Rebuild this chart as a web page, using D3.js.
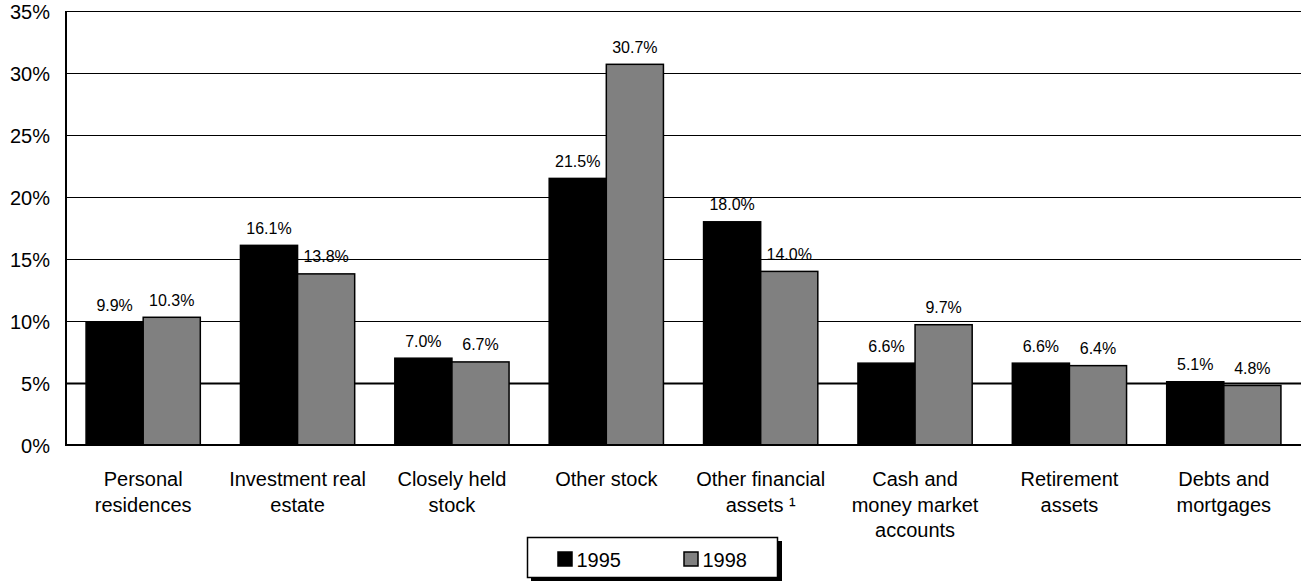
<!DOCTYPE html>
<html>
<head>
<meta charset="utf-8">
<script src="https://cdn.jsdelivr.net/npm/d3@7"></script>
<style>
  html, body { margin: 0; padding: 0; background: #fff; }
  svg { display: block; font-family: "Liberation Sans", Arial, sans-serif; }
</style>
</head>
<body>
<svg id="chart" width="1301" height="581"></svg>
<script>
// Share of gross estate by asset type, 1995 vs 1998
const categories = [
  ["Personal", "residences"],
  ["Investment real", "estate"],
  ["Closely held", "stock"],
  ["Other stock"],
  ["Other financial", "assets \u00B9"],
  ["Cash and", "money market", "accounts"],
  ["Retirement", "assets"],
  ["Debts and", "mortgages"]
];
const series = ["1995", "1998"];
const values1995 = [9.9, 16.1, 7.0, 21.5, 18.0, 6.6, 6.6, 5.1];
const values1998 = [10.3, 13.8, 6.7, 30.7, 14.0, 9.7, 6.4, 4.8];
const yTicks = [0, 5, 10, 15, 20, 25, 30, 35];
const colors = ["#000000", "#808080"];

const svg = d3.select("#chart");
const margin = { left: 66, right: 0, top: 11, bottom: 136 };
const W = 1301, H = 581;

const x = d3.scaleBand()
  .domain(d3.range(categories.length))
  .range([margin.left, W - margin.right])
  .paddingInner(0.26)
  .paddingOuter(0.13);
const xs = d3.scaleBand().domain(series).range([0, x.bandwidth()]);
const y = d3.scaleLinear().domain([0, 35]).range([H - margin.bottom, margin.top]);

// gridlines
svg.append("g").selectAll("line").data(yTicks.filter(t => t > 0)).join("line")
  .attr("x1", margin.left).attr("x2", W)
  .attr("y1", d => Math.round(y(d)) + 0.5).attr("y2", d => Math.round(y(d)) + 0.5)
  .attr("stroke", "#000").attr("stroke-width", d => d === 5 ? 2 : 1);

// y axis labels
const yAxis = d3.axisLeft(y).tickValues(yTicks).tickFormat(d => d + "%").tickSize(0).tickPadding(16);
const gy = svg.append("g").attr("transform", `translate(${margin.left},0)`).call(yAxis);
gy.select(".domain").remove();
gy.selectAll("text").attr("font-size", 20).attr("fill", "#000").attr("dy", "0.36em")
  .attr("font-family", "Liberation Sans, Arial, sans-serif");

// bars
const data = categories.map((c, i) => ({ i, vals: [values1995[i], values1998[i]] }));
const groups = svg.append("g").selectAll("g").data(data).join("g")
  .attr("transform", d => `translate(${x(d.i)},0)`);
groups.selectAll("rect").data(d => d.vals.map((v, k) => ({ v, k }))).join("rect")
  .attr("x", d => xs(series[d.k]))
  .attr("width", xs.bandwidth())
  .attr("y", d => y(d.v))
  .attr("height", d => y(0) - y(d.v))
  .attr("fill", d => colors[d.k])
  .attr("stroke", "#000").attr("stroke-width", 1.5);
groups.selectAll("text").data(d => d.vals.map((v, k) => ({ v, k }))).join("text")
  .attr("x", d => xs(series[d.k]) + xs.bandwidth() / 2)
  .attr("y", d => y(d.v) - 11.5)
  .attr("text-anchor", "middle")
  .attr("font-size", 16)
  .text(d => d.v.toFixed(1) + "%");

// axes lines
svg.append("line").attr("x1", margin.left).attr("x2", margin.left)
  .attr("y1", y(35)).attr("y2", y(0) + 1)
  .attr("stroke", "#000").attr("stroke-width", 2);
svg.append("line").attr("x1", margin.left - 1).attr("x2", W)
  .attr("y1", y(0)).attr("y2", y(0))
  .attr("stroke", "#000").attr("stroke-width", 2);

// category labels
svg.append("g").selectAll("text").data(categories).join("text")
  .attr("x", (d, i) => x(i) + x.bandwidth() / 2)
  .attr("y", 486)
  .attr("text-anchor", "middle")
  .attr("font-size", 20)
  .each(function (d) {
    const t = d3.select(this);
    d.forEach((line, j) => {
      t.append("tspan").attr("x", t.attr("x")).attr("dy", j === 0 ? 0 : 25.5).text(line);
    });
  });

// legend
const lg = svg.append("g").attr("transform", "translate(527,537)");
lg.append("rect").attr("x", 4).attr("y", 4).attr("width", 251).attr("height", 41).attr("fill", "#000");
lg.append("rect").attr("x", 0.5).attr("y", 0.5).attr("width", 250).attr("height", 40)
  .attr("fill", "#fff").attr("stroke", "#000").attr("stroke-width", 1.5);
const items = lg.selectAll("g.item").data(series).join("g")
  .attr("transform", (d, i) => `translate(${[30.5, 156.5][i]},0)`);
items.append("rect").attr("x", 0.5).attr("y", 15).attr("width", 14).attr("height", 14)
  .attr("fill", (d, i) => colors[i]).attr("stroke", "#000").attr("stroke-width", 1.5);
items.append("text").attr("x", 19).attr("y", 30).attr("font-size", 20).text(d => d);
</script>
</body>
</html>
